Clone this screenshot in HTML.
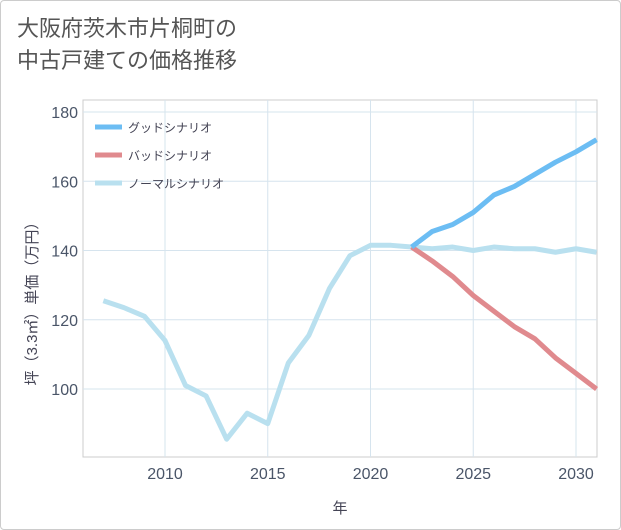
<!DOCTYPE html>
<html><head><meta charset="utf-8"><style>
body{margin:0;background:#fff;}
#wrap{position:relative;width:619px;height:528px;border:1px solid #ccc;border-radius:4px;background:#fff;font-family:"Liberation Sans","Noto Sans CJK JP",sans-serif;}
#title{position:absolute;left:16px;top:12px;font-size:22px;line-height:32px;color:#555;}
</style></head><body>
<div id="wrap">
<div id="title">大阪府茨木市片桐町の<br>中古戸建ての価格推移</div>
<svg id="chart" width="621" height="530" style="position:absolute;left:-1px;top:-1px"></svg>
</div>
<script>
const years=[2007,2008,2009,2010,2011,2012,2013,2014,2015,2016,2017,2018,2019,2020,2021,2022,2023,2024,2025,2026,2027,2028,2029,2030,2031];
const normal=[125.5,123.5,121,114,101,98,85.5,93,90,107.5,115.5,129,138.5,141.5,141.5,141,140.5,141,140,141,140.5,140.5,139.5,140.5,139.5];
const goodYears=[2022,2023,2024,2025,2026,2027,2028,2029,2030,2031];
const good=[141,145.5,147.5,151,156,158.5,162,165.5,168.5,172];
const bad=[141,137,132.5,127,122.5,118,114.5,109,104.5,100];
const xTicks=[2010,2015,2020,2025,2030];
const yTicks=[100,120,140,160,180];
const svg=document.getElementById('chart');const NS='http://www.w3.org/2000/svg';
const L=83,R=597,T=100,B=457;
const x=v=>165+(v-2010)*(576-165)/20;
const y=v=>389-(v-100)*(389-112)/80;
function mk(t,a,p){const e=document.createElementNS(NS,t);for(const k in a)e.setAttribute(k,a[k]);(p||svg).appendChild(e);return e;}
const frame=mk('rect',{x:L,y:T,width:R-L,height:B-T,fill:'none',stroke:'#ccc'});


xTicks.forEach(t=>{const g=mk('line',{x1:x(t),x2:x(t),y1:T,y2:B,stroke:'#d6e4ee'});


const l=mk('text',{x:x(t),y:479,'text-anchor':'middle','font-size':16,fill:'#4a5568'});l.textContent=t;

});
yTicks.forEach(t=>{const g=mk('line',{x1:L,x2:R,y1:y(t),y2:y(t),stroke:'#d6e4ee'});


const l=mk('text',{x:78,y:y(t)+6,'text-anchor':'end','font-size':16,fill:'#4a5568'});l.textContent=t;

});
const xt=mk('text',{x:340,y:513,'text-anchor':'middle','font-size':15,fill:'#445'});xt.textContent='年';


const yt=mk('text',{transform:'translate(37,300) rotate(-90)','text-anchor':'middle','font-size':15,fill:'#445'});yt.textContent='坪（3.3㎡）単価（万円）';


function line(xs,vs,c,name){const p=mk('polyline',{points:xs.map((a,i)=>x(a)+','+y(vs[i])).join(' '),fill:'none',stroke:c,'stroke-width':5,'stroke-linejoin':'round'});

}
line(years,normal,'#b9e0ef','normal-scenario-line');
line(goodYears,bad,'#e08a8e','bad-scenario-line');
line(goodYears,good,'#6cbdf3','good-scenario-line');
[['グッドシナリオ','#6cbdf3'],['バッドシナリオ','#e08a8e'],['ノーマルシナリオ','#b9e0ef']].forEach((d,i)=>{
const yy=127+i*28;
const l=mk('line',{x1:95,x2:122,y1:yy,y2:yy,stroke:d[1],'stroke-width':5});


const t=mk('text',{x:128,y:yy+5,'font-size':12,fill:'#445'});t.textContent=d[0];

});
</script>
</body></html>
